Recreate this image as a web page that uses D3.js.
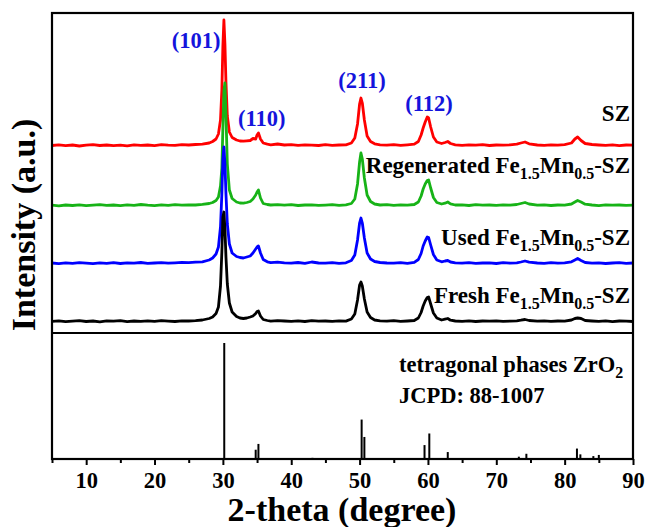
<!DOCTYPE html>
<html>
<head>
<meta charset="utf-8">
<script src="https://cdn.jsdelivr.net/npm/d3@7"></script>
<style>
    body { margin: 0; background: #fff; }
    svg text { font-family: "Liberation Serif", "Times New Roman", serif; font-weight: bold; }
</style>
</head>
<body>
<svg id="chart" width="646" height="527"></svg>
<script>
// 2-theta sampling points (degree)
var twoTheta = [
    5, 6, 7, 8, 9, 10, 11, 12, 13, 14,
    15, 16, 17, 18, 19, 20, 21, 22, 23, 24,
    25, 26, 27, 28, 28.5, 29, 29.35, 29.65, 29.85, 30.0,
    30.15, 30.3, 30.45, 30.65, 30.95, 31.35, 32, 32.5, 33, 33.5,
    34, 34.4, 34.8, 35.0, 35.2, 35.5, 35.9, 36.5, 37, 38,
    39, 40, 41, 42, 43, 44, 45, 46, 47, 48,
    48.8, 49.3, 49.7, 50.0, 50.2, 50.4, 50.7, 51.1, 51.6, 52.2,
    53, 54, 55, 56, 57, 58, 58.6, 59.0, 59.3, 59.6,
    59.9, 60.1, 60.4, 60.8, 61.3, 62, 62.5, 62.9, 63.3, 64,
    65, 66, 67, 68, 69, 70, 71, 72, 73, 73.6,
    74.2, 74.8, 76, 77, 78, 79, 80, 81, 81.5, 81.9,
    82.4, 83, 84, 85, 86, 87, 88, 89, 90
];

// intensities above each pattern's own background (a.u.)
var szValues = [
    5, 12, 4, 10, 0, 8, 14, 5, 10, 3,
    9, 2, 12, 6, 10, 4, 13, 8, 6, 14,
    10, 15, 18, 30, 45, 70, 120, 260, 560, 1000,
    1260, 1020, 640, 300, 140, 85, 60, 50, 48, 52,
    55, 75, 70, 110, 130, 70, 30, 18, 12, 20,
    10, 14, 6, 12, 8, 5, 13, 7, 10, 12,
    30, 80, 220, 420, 480, 430, 260, 100, 45, 22,
    12, 8, 14, 6, 12, 18, 45, 110, 180, 240,
    290, 280, 190, 90, 40, 25, 35, 45, 25, 12,
    6, 12, 8, 14, 5, 10, 8, 12, 18, 30,
    40, 22, 10, 6, 12, 8, 14, 30, 70, 90,
    55, 25, 15, 10, 6, 12, 4, 10, 8
];
var regeneratedValues = [
    8, 2, 10, 5, 12, 3, 9, 14, 6, 10,
    4, 12, 7, 15, 8, 3, 11, 6, 14, 9,
    12, 10, 16, 25, 35, 55, 90, 200, 380, 780,
    1150, 1230, 900, 420, 160, 75, 40, 30, 28, 35,
    45, 70, 110, 140, 160, 80, 25, 15, 10, 14,
    8, 14, 5, 10, 12, 6, 9, 13, 7, 12,
    25, 70, 220, 440, 530, 470, 280, 110, 45, 20,
    10, 14, 6, 12, 8, 15, 40, 100, 170, 220,
    255, 260, 180, 85, 35, 20, 28, 40, 22, 10,
    12, 5, 14, 8, 10, 6, 12, 9, 15, 25,
    35, 20, 8, 12, 5, 10, 8, 20, 40, 55,
    40, 18, 10, 4, 12, 8, 10, 6, 9
];
var usedValues = [
    10, 4, 12, 6, 14, 8, 3, 11, 7, 13,
    5, 12, 9, 15, 6, 10, 14, 8, 12, 16,
    14, 18, 22, 40, 60, 100, 170, 370, 700, 1050,
    1170, 1000, 700, 400, 200, 110, 75, 65, 60, 70,
    80, 110, 150, 170, 180, 110, 45, 22, 14, 18,
    12, 8, 15, 6, 20, 10, 8, 14, 6, 12,
    35, 90, 240, 410, 460, 410, 260, 110, 50, 25,
    15, 10, 8, 14, 6, 16, 45, 105, 180, 230,
    270, 265, 190, 95, 40, 22, 30, 35, 20, 12,
    8, 14, 6, 10, 12, 5, 13, 9, 12, 20,
    30, 18, 10, 6, 14, 8, 12, 22, 40, 55,
    35, 15, 8, 12, 5, 10, 14, 6, 10
];
var freshValues = [
    6, 12, 3, 9, 14, 5, 10, 2, 11, 8,
    13, 4, 10, 7, 12, 6, 14, 9, 5, 12,
    10, 14, 20, 35, 50, 85, 150, 360, 700, 1050,
    1100, 930, 650, 380, 190, 100, 55, 40, 35, 40,
    50, 60, 85, 105, 110, 60, 25, 15, 8, 14,
    10, 6, 12, 5, 14, 8, 10, 6, 12, 9,
    30, 80, 220, 370, 400, 360, 230, 100, 45, 20,
    12, 8, 14, 6, 10, 15, 40, 95, 160, 210,
    245, 250, 180, 90, 40, 20, 28, 35, 18, 10,
    6, 12, 5, 10, 8, 12, 6, 9, 12, 18,
    25, 15, 8, 12, 6, 10, 8, 20, 35, 40,
    35, 15, 10, 6, 12, 4, 10, 8, 5
];

// stacking offset of each pattern
var seriesOffsets = [1870, 1270, 690, 110];

// reference pattern, tetragonal ZrO2 (JCPDS 88-1007)
var refPositions = [30.2, 34.8, 35.2, 43.1, 50.3, 50.7, 59.5, 60.2, 62.9, 73.3, 74.4, 81.8, 82.3, 84.2, 85.0];
var refIntensity = [100, 8, 13, 1, 34, 19, 12, 22, 6, 2, 4.5, 9, 4, 2.5, 3.5];

var xTicks = [10, 20, 30, 40, 50, 60, 70, 80, 90];
var xMinorTicks = [5, 15, 25, 35, 45, 55, 65, 75, 85];

var peakLabels = ["(101)", "(110)", "(211)", "(112)"];

(function () {
    var svg = d3.select("#chart");
    svg.append("rect").attr("width", 646).attr("height", 527).attr("fill", "#fff");

    var mLeft = 52, mRight = 633, mTop = 13, mDivider = 333, mBottom = 459;

    var x = d3.scaleLinear().domain([5, 90]).range([mLeft, mRight]);
    var y = d3.scaleLinear().domain([0, 3200]).range([mDivider, mTop]);
    var yRef = d3.scaleLinear().domain([0, 100]).range([mBottom, 343]);

    var series = [
        { name: "SZ", values: szValues, color: "#ff0000" },
        { name: "Regenerated", values: regeneratedValues, color: "#17b317" },
        { name: "Used", values: usedValues, color: "#0000ff" },
        { name: "Fresh", values: freshValues, color: "#000000" }
    ];

    // XRD patterns
    series.forEach(function (s, i) {
        var line = d3.line()
            .x(function (d, j) { return x(twoTheta[j]); })
            .y(function (d) { return y(d + seriesOffsets[i]); });
        svg.append("path")
            .datum(s.values)
            .attr("d", line)
            .attr("fill", "none")
            .attr("stroke", s.color)
            .attr("stroke-width", 2.8)
            .attr("stroke-linejoin", "round");
    });

    // reference sticks
    svg.append("g")
        .selectAll("line")
        .data(refPositions)
        .enter()
        .append("line")
        .attr("x1", function (d) { return x(d); })
        .attr("x2", function (d) { return x(d); })
        .attr("y1", yRef(0))
        .attr("y2", function (d, i) { return yRef(refIntensity[i]); })
        .attr("stroke", "#000")
        .attr("stroke-width", 2);

    // frame and divider
    svg.append("rect")
        .attr("x", mLeft).attr("y", mTop)
        .attr("width", mRight - mLeft).attr("height", mBottom - mTop)
        .attr("fill", "none").attr("stroke", "#000").attr("stroke-width", 2.2);
    svg.append("line")
        .attr("x1", mLeft).attr("x2", mRight)
        .attr("y1", mDivider).attr("y2", mDivider)
        .attr("stroke", "#000").attr("stroke-width", 2.2);

    // x axis
    var xAxis = svg.append("g")
        .attr("transform", "translate(0," + mBottom + ")")
        .call(d3.axisBottom(x).tickValues(xTicks).tickSize(6).tickSizeOuter(0));
    xAxis.select(".domain").remove();
    xAxis.selectAll(".tick line").attr("stroke-width", 2);
    xAxis.selectAll("text")
        .attr("y", 29).attr("dy", 0)
        .attr("font-size", 22.5)
        .attr("font-family", "Liberation Serif")
        .attr("fill", "#000");
    svg.append("g")
        .attr("transform", "translate(0," + mBottom + ")")
        .call(d3.axisBottom(x).tickValues(xMinorTicks).tickSize(4).tickFormat(""))
        .call(function (g) {
            g.select(".domain").remove();
            g.selectAll(".tick line").attr("stroke-width", 2);
        });

    // axis titles
    svg.append("text")
        .attr("x", 342).attr("y", 521)
        .attr("text-anchor", "middle")
        .attr("font-size", 34)
        .text("2-theta (degree)");
    svg.append("text")
        .attr("transform", "translate(35,225) rotate(-90)")
        .attr("text-anchor", "middle")
        .attr("font-size", 34)
        .text("Intensity (a.u.)");

    // peak indexes
    var peakAnchors = [[26.1, 2850], [35.7, 2070], [50.35, 2450], [60.15, 2220]];
    svg.append("g")
        .selectAll("text")
        .data(peakLabels)
        .enter()
        .append("text")
        .attr("x", function (d, i) { return x(peakAnchors[i][0]); })
        .attr("y", function (d, i) { return y(peakAnchors[i][1]); })
        .attr("text-anchor", "middle")
        .attr("font-size", 22.5)
        .attr("fill", "#1414dc")
        .text(function (d) { return d; });

    // sample names, with Fe1.5Mn0.5 subscripts
    function subLabel(parts, xPos, yPos) {
        var t = svg.append("text")
            .attr("x", xPos).attr("y", yPos)
            .attr("text-anchor", "end")
            .attr("font-size", 23);
        parts.forEach(function (p) {
            var ts = t.append("tspan").text(p[0]);
            if (p[1] === "sub") ts.attr("font-size", 16).attr("dy", 6);
            if (p[1] === "up") ts.attr("dy", -6);
        });
        return t;
    }
    var labelRight = x(89.56);
    subLabel([["SZ"]], labelRight, y(2120));
    subLabel([["Regenerated Fe"], ["1.5", "sub"], ["Mn", "up"], ["0.5", "sub"], ["-SZ", "up"]], labelRight, y(1600));
    subLabel([["Used Fe"], ["1.5", "sub"], ["Mn", "up"], ["0.5", "sub"], ["-SZ", "up"]], labelRight, y(880));
    subLabel([["Fresh Fe"], ["1.5", "sub"], ["Mn", "up"], ["0.5", "sub"], ["-SZ", "up"]], labelRight, y(300));

    // reference card text
    var card = svg.append("text")
        .attr("x", x(55.77)).attr("y", yRef(75))
        .attr("font-size", 22.5);
    card.append("tspan").text("tetragonal phases ZrO");
    card.append("tspan").text("2").attr("font-size", 16).attr("dy", 6);
    svg.append("text")
        .attr("x", x(55.77)).attr("y", yRef(48.3))
        .attr("font-size", 22.5)
        .text("JCPD: 88-1007");
})();
</script>
</body>
</html>
